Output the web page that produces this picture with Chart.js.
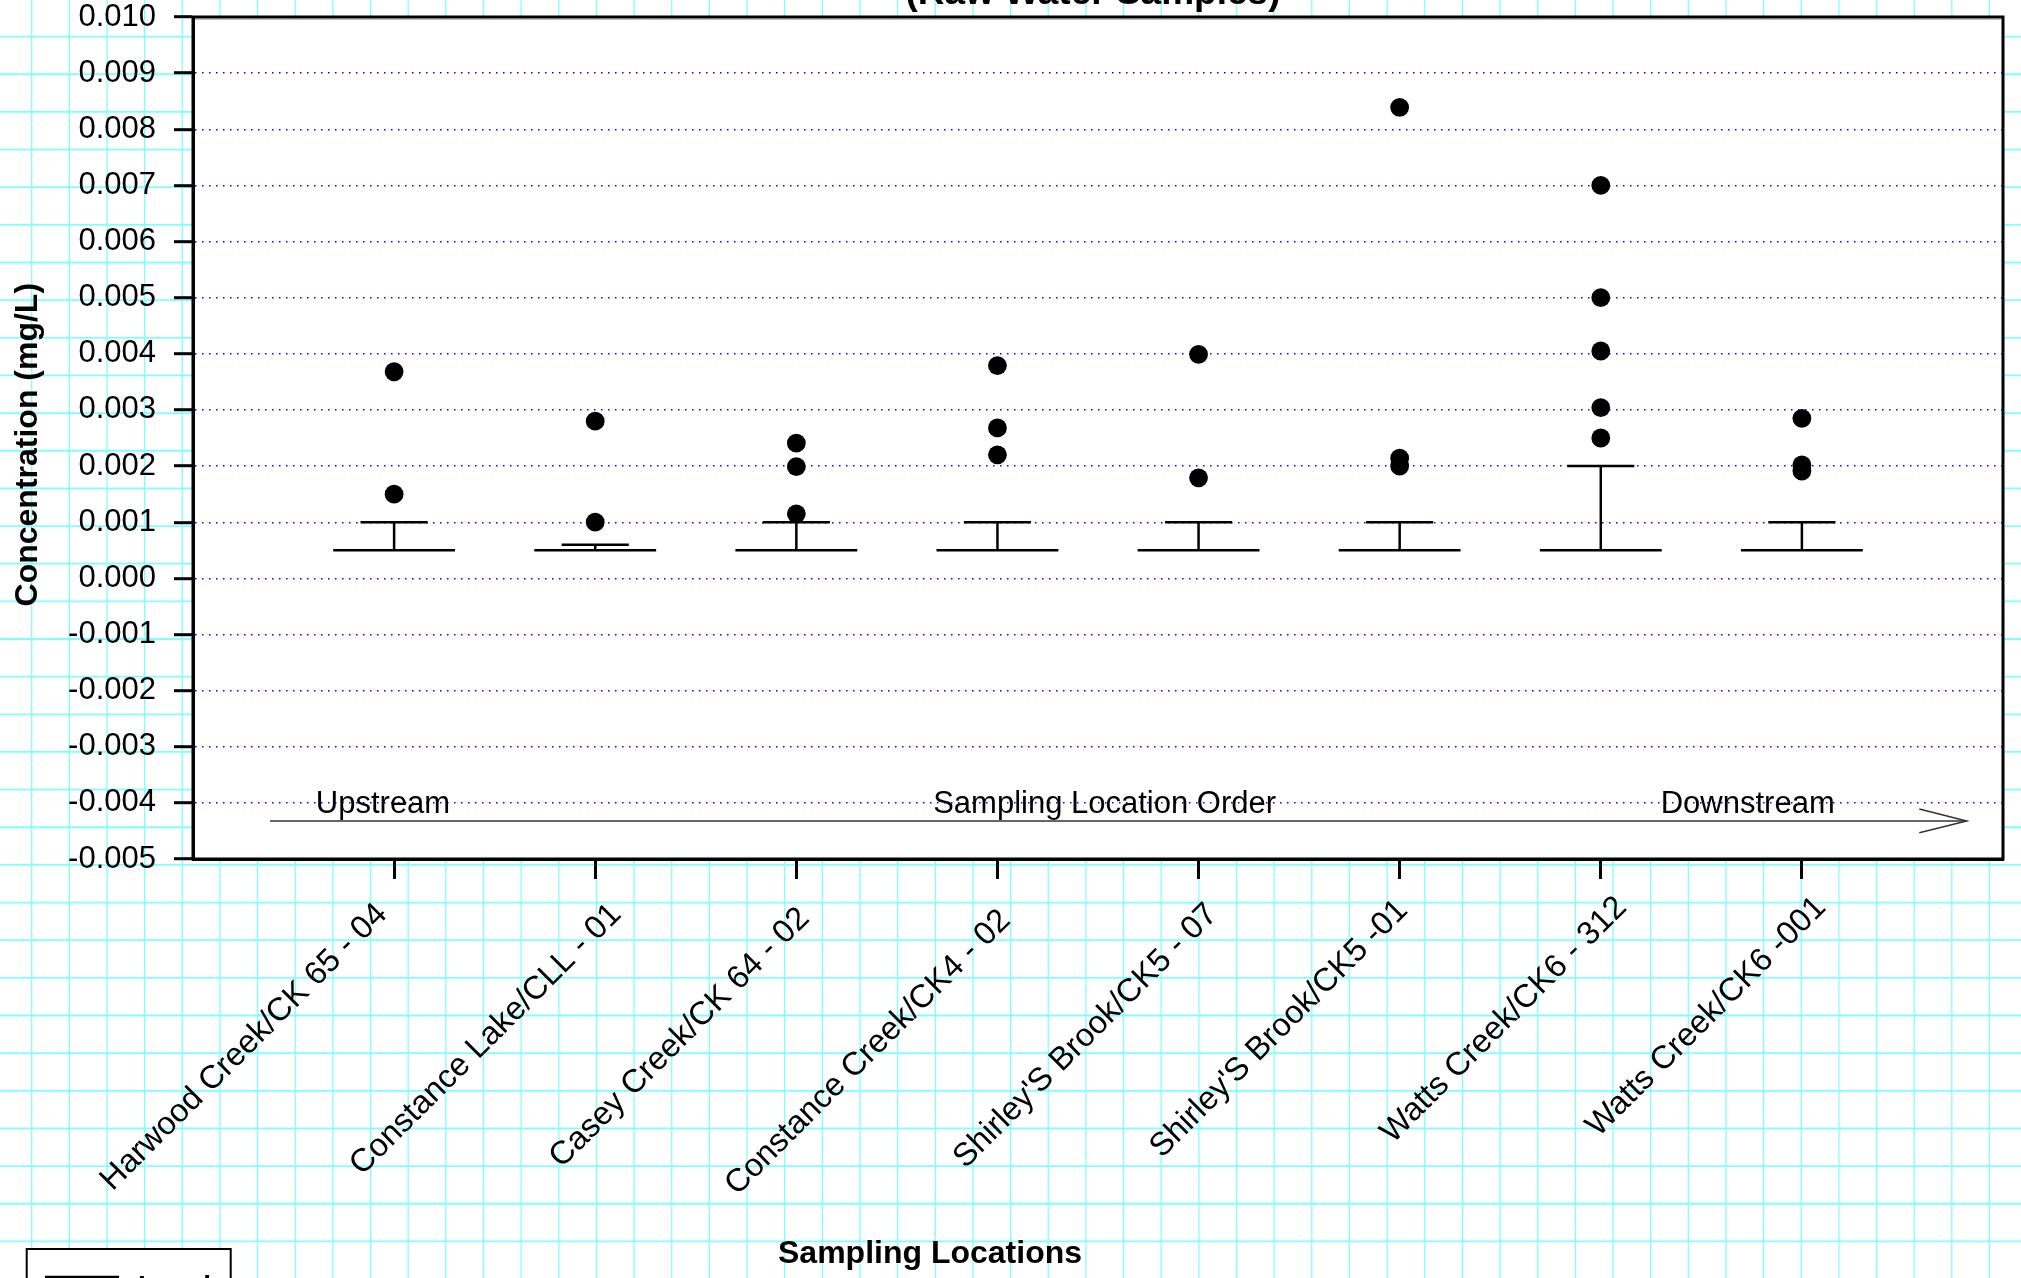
<!DOCTYPE html>
<html><head><meta charset="utf-8">
<style>html,body{margin:0;padding:0;background:#fff;overflow:hidden}canvas{display:block}</style>
<script src="https://cdn.jsdelivr.net/npm/chart.js@4.4.1/dist/chart.umd.min.js"></script>
</head><body>
<canvas id="c" width="2021" height="1278"></canvas>
<script>
// ---------- data ----------
const categories = [
  'Harwood Creek/CK 65 - 04',
  'Constance Lake/CLL - 01',
  'Casey Creek/CK 64 - 02',
  'Constance Creek/CK4 - 02',
  "Shirley'S Brook/CK5 - 07",
  "Shirley'S Brook/CK5 -01",
  'Watts Creek/CK6 - 312',
  'Watts Creek/CK6 -001'
];
const boxLow = [0.0005, 0.0005, 0.0005, 0.0005, 0.0005, 0.0005, 0.0005, 0.0005];
const whiskerHigh = [0.0010, 0.0006, 0.0010, 0.0010, 0.0010, 0.0010, 0.0020, 0.0010];
const outliersHarwood = [0.00368, 0.00150];
const outliersConstanceLake = [0.00280, 0.00100];
const outliersCasey = [0.00241, 0.00199, 0.00115];
const outliersConstanceCreek = [0.00379, 0.00268, 0.00220];
const outliersShirley07 = [0.00399, 0.00179];
const outliersShirley01 = [0.00839, 0.00214, 0.00200];
const outliersWatts312 = [0.00700, 0.00500, 0.00405, 0.00304, 0.00250];
const outliersWatts001 = [0.00285, 0.00202, 0.00191];
const outliers = [outliersHarwood, outliersConstanceLake, outliersCasey, outliersConstanceCreek,
                  outliersShirley07, outliersShirley01, outliersWatts312, outliersWatts001];
const yMin = -0.005, yMax = 0.010, yStep = 0.001;
const chartTitle = '(Raw Water Samples)';
const yAxisTitle = 'Concentration (mg/L)';
const xAxisTitle = 'Sampling Locations';
const orderLabels = ['Upstream', 'Sampling Location Order', 'Downstream'];
const legendLabel = 'Local';

// ---------- layout / style ----------
const FONT = '"Liberation Sans", Arial, Helvetica, sans-serif';
const W = 2021, H = 1278;
const AREA = {left: 193, top: 17, right: 2003, bottom: 859};
const WIDE = 0.303, CAP = 0.167;
// small per-label nudges of the rotated category labels (as placed in the original)
const LABEL_DX = [-5, 28, 15, 15, 21, 10, 28, 26];
const LABEL_DY = [-5, -5, -1, 1, -5, -9, -12, -12];

const datasets = [];
const seg = (x1, y1, x2, y2) => ({
  type: 'scatter', showLine: true, data: [{x: x1, y: y1}, {x: x2, y: y2}],
  borderColor: '#000', borderWidth: 2.5, pointRadius: 0, pointHoverRadius: 0, fill: false
});
categories.forEach((c, i) => {
  const x = i + 1;
  datasets.push(seg(x - WIDE, boxLow[i], x + WIDE, boxLow[i]));
  datasets.push(seg(x, boxLow[i], x, whiskerHigh[i]));
  datasets.push(seg(x - CAP, whiskerHigh[i], x + CAP, whiskerHigh[i]));
});
const outlierPts = [];
outliers.forEach((arr, i) => arr.forEach(v => outlierPts.push({x: i + 1, y: v})));
datasets.push({
  type: 'scatter', data: outlierPts, pointRadius: 9.4, pointHoverRadius: 9.4,
  pointBackgroundColor: '#000', pointBorderWidth: 0, borderColor: '#000', showLine: false
});

const paperPlugin = {
  id: 'paper',
  beforeDraw(chart) {
    const ctx = chart.ctx, a = chart.chartArea;
    ctx.save();
    ctx.fillStyle = '#fff';
    ctx.fillRect(0, 0, W, H);
    ctx.strokeStyle = 'rgb(128,255,255)';
    ctx.lineWidth = 1.3;
    for (let x = 31.7; x < W; x += 37.65) {
      ctx.beginPath(); ctx.moveTo(x, 0); ctx.lineTo(x, H); ctx.stroke();
    }
    ctx.lineWidth = 1.8;
    for (let y = 36.6; y < H; y += 37.65) {
      ctx.beginPath(); ctx.moveTo(0, y); ctx.lineTo(W, y); ctx.stroke();
    }
    ctx.fillStyle = '#fff';
    ctx.fillRect(a.left, a.top, a.right - a.left, a.bottom - a.top);
    ctx.restore();
  },
  afterDraw(chart) {
    const ctx = chart.ctx, a = chart.chartArea;
    const xs = chart.scales.x;
    ctx.save();
    // frame
    ctx.strokeStyle = '#000';
    ctx.lineWidth = 3;
    ctx.strokeRect(a.left, a.top, a.right - a.left, a.bottom - a.top);
    ctx.strokeStyle = '#bbb';
    ctx.lineWidth = 1;
    ctx.beginPath(); ctx.moveTo(a.left + 2, a.top + 2.5); ctx.lineTo(a.right - 2, a.top + 2.5); ctx.stroke();

    ctx.fillStyle = '#000';
    // rotated category labels, anchored at the x scale ticks
    ctx.font = '32.5px ' + FONT;
    ctx.textAlign = 'right';
    ctx.textBaseline = 'middle';
    categories.forEach((c, i) => {
      const px = xs.getPixelForValue(i + 1);
      ctx.save();
      ctx.translate(px - 7 + LABEL_DX[i], a.bottom + 55.4 + LABEL_DY[i]);
      ctx.rotate(-Math.PI / 4);
      ctx.fillText(c, 0, 0);
      ctx.restore();
    });

    // chart title (clipped at top)
    ctx.textBaseline = 'alphabetic';
    ctx.font = 'bold 37px ' + FONT;
    ctx.textAlign = 'center';
    ctx.fillText(chartTitle, 1093, 4);

    // y axis title
    ctx.save();
    ctx.translate(36.5, 444.7);
    ctx.rotate(-Math.PI / 2);
    ctx.font = 'bold 32px ' + FONT;
    ctx.textAlign = 'center';
    ctx.fillText(yAxisTitle, 0, 0);
    ctx.restore();

    // x axis title
    ctx.font = 'bold 32px ' + FONT;
    ctx.textAlign = 'center';
    ctx.fillText(xAxisTitle, 930, 1263);

    // order annotation
    ctx.font = '31px ' + FONT;
    ctx.fillText(orderLabels[0], 383, 813);
    ctx.fillText(orderLabels[1], 1104.6, 813);
    ctx.fillText(orderLabels[2], 1747.7, 813);
    ctx.strokeStyle = '#333';
    ctx.lineWidth = 1.5;
    ctx.beginPath(); ctx.moveTo(270, 821); ctx.lineTo(1966.7, 821); ctx.stroke();
    ctx.beginPath(); ctx.moveTo(1919.3, 809); ctx.lineTo(1966.7, 821); ctx.lineTo(1919.3, 832.7); ctx.stroke();

    // legend box (cut off at bottom)
    ctx.strokeStyle = '#000';
    ctx.lineWidth = 2;
    ctx.fillStyle = '#fff';
    ctx.fillRect(26.7, 1249, 204, 60);
    ctx.strokeRect(26.7, 1249, 204, 60);
    ctx.lineWidth = 2.5;
    ctx.beginPath(); ctx.moveTo(45, 1277); ctx.lineTo(119, 1277); ctx.stroke();
    ctx.fillStyle = '#000';
    ctx.font = 'bold 28px ' + FONT;
    ctx.textAlign = 'left';
    ctx.fillText(legendLabel, 138, 1295);
    ctx.restore();
  }
};

new Chart(document.getElementById('c'), {
  type: 'scatter',
  data: {datasets},
  plugins: [paperPlugin],
  options: {
    responsive: false,
    devicePixelRatio: 1,
    animation: false,
    layout: {padding: {top: AREA.top, right: W - AREA.right, bottom: 0, left: 0}},
    plugins: {legend: {display: false}, tooltip: {enabled: false}, title: {display: false}},
    scales: {
      x: {
        type: 'linear', position: 'bottom', min: 0, max: categories.length + 1,
        afterBuildTicks: s => { s.ticks = categories.map((_, i) => ({value: i + 1})); },
        afterFit: s => {
          s.height = H - AREA.bottom;
          s.paddingLeft = 0; s.paddingRight = 0; s.paddingTop = 0; s.paddingBottom = 0;
        },
        ticks: {display: false, autoSkip: false},
        grid: {drawOnChartArea: false, drawTicks: true, tickLength: 20, tickWidth: 3, tickColor: '#000'},
        border: {display: true, color: '#000', width: 3}
      },
      y: {
        type: 'linear', min: yMin, max: yMax,
        afterFit: s => {
          s.width = AREA.left;
          s.paddingLeft = 0; s.paddingRight = 0; s.paddingTop = 0; s.paddingBottom = 0;
        },
        ticks: {
          stepSize: yStep, autoSkip: false,
          callback: v => (Math.abs(v) < 1e-9 ? 0 : v).toFixed(3),
          font: {family: FONT, size: 31}, color: '#000', padding: 18
        },
        grid: {
          color: '#0000ff', lineWidth: 1.4,
          drawTicks: true, tickLength: 19, tickWidth: 3, tickColor: '#000', tickBorderDash: []
        },
        border: {display: true, color: '#000', width: 3, dash: [1.5, 5.5]}
      }
    }
  }
});
</script>
</body></html>
